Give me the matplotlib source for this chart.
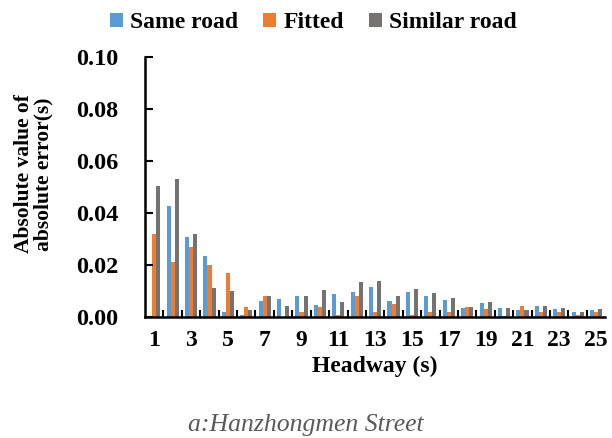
import numpy as np
import matplotlib.pyplot as plt
from matplotlib.ticker import MultipleLocator, FixedLocator

headway = list(range(1, 26))
same_road = [0.0005, 0.0427, 0.0308, 0.0233, 0.0021, 0.0010, 0.0063, 0.0068, 0.0082, 0.0045,
             0.0087, 0.0098, 0.0114, 0.0062, 0.0095, 0.0082, 0.0067, 0.0036, 0.0054, 0.0035,
             0.0026, 0.0041, 0.0033, 0.0019, 0.0028]
fitted = [0.0319, 0.0210, 0.0270, 0.0199, 0.0169, 0.0040, 0.0080, 0.0000, 0.0019, 0.0040,
          0.0010, 0.0081, 0.0019, 0.0049, 0.0010, 0.0021, 0.0020, 0.0040, 0.0030, 0.0003,
          0.0041, 0.0019, 0.0019, 0.0010, 0.0019]
similar_road = [0.0504, 0.0530, 0.0320, 0.0111, 0.0101, 0.0026, 0.0080, 0.0041, 0.0080, 0.0105,
                0.0059, 0.0135, 0.0140, 0.0080, 0.0107, 0.0091, 0.0072, 0.0040, 0.0057, 0.0036,
                0.0028, 0.0041, 0.0035, 0.0021, 0.0030]

plt.rcParams['font.family'] = ['Liberation Serif', 'DejaVu Serif']

fig = plt.figure(figsize=(6.12, 4.38), dpi=100)
ax = fig.add_axes([0.237, 0.276, 0.752, 0.594])

x = np.array(headway)
w = 0.22
ax.bar(x - w, same_road, w, color="#5B9BD5", label="Same road")
ax.bar(x, fitted, w, color="#ED7D31", label="Fitted")
ax.bar(x + w, similar_road, w, color="#777272", label="Similar road")

ax.set_xlim(0.5, 25.5)
ax.set_ylim(0, 0.1)

ax.yaxis.set_major_locator(MultipleLocator(0.02))
ax.set_yticklabels([f"{v:.2f}" for v in ax.get_yticks()])
ax.tick_params(axis='y', direction='in', length=6, width=1.5, labelsize=17.5, pad=19)
for lb in ax.get_yticklabels():
    lb.set_fontweight('bold')

ax.set_xticks(headway[::2])
ax.set_xticklabels([str(h) for h in headway[::2]], fontsize=17, fontweight='bold')
ax.tick_params(axis='x', which='major', length=0, pad=9)
ax.xaxis.set_minor_locator(FixedLocator(np.arange(1.5, 25.5, 1)))
ax.tick_params(axis='x', which='minor', direction='in', length=5, width=1.5)

for s in ['top', 'right']:
    ax.spines[s].set_visible(False)
for s in ['left', 'bottom']:
    ax.spines[s].set_linewidth(1.8)

ax.set_xlabel("Headway (s)", fontsize=17, fontweight='bold', labelpad=4)
ax.set_ylabel("Absolute value of\nabsolute error(s)", fontsize=15.5, fontweight='bold',
              linespacing=0.95)
ax.yaxis.set_label_coords(-0.2, 0.55)

fig.legend(loc='upper center', bbox_to_anchor=(0.512, 1.02), ncol=3, frameon=False,
           prop={'weight': 'bold', 'size': 17}, handlelength=0.55, handleheight=0.55,
           handletextpad=0.3, columnspacing=1.05)

fig.text(0.5, 0.015, "a:Hanzhongmen Street", ha='center', fontsize=18.5, style='italic',
         color="#595959")

fig.savefig("out.png", dpi=100)
